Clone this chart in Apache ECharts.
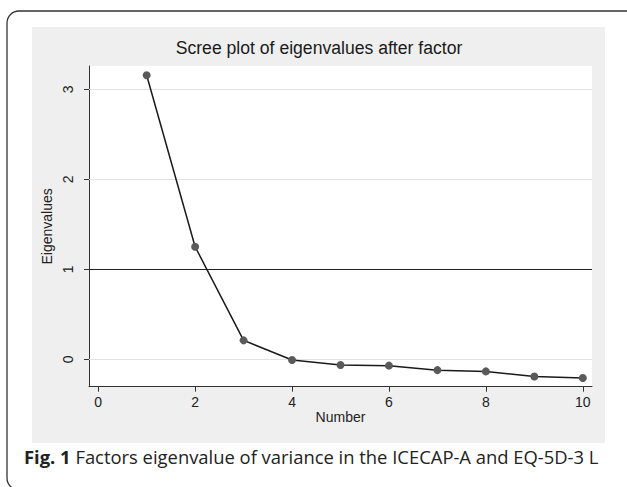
<!DOCTYPE html>
<html>
<head>
<meta charset="utf-8">
<script src="https://cdn.jsdelivr.net/npm/echarts@6/dist/echarts.min.js"></script>
<style>
html,body{margin:0;padding:0;background:#fff;}
#chart{width:627px;height:487px;}
</style>
</head>
<body>
<div id="chart"></div>
<script>
// Data
var factorNumbers = [1, 2, 3, 4, 5, 6, 7, 8, 9, 10];
var eigenvalues = [3.156, 1.251, 0.211, -0.008, -0.063, -0.070, -0.120, -0.134, -0.190, -0.208];
var xTickValues = [0, 2, 4, 6, 8, 10];
var yTickValues = [0, 1, 2, 3];
var yGridValues = [0, 2, 3];
var referenceLine = 1;
var titleText = 'Scree plot of eigenvalues after factor';
var xAxisName = 'Number';
var yAxisName = 'Eigenvalues';
var captionBold = 'Fig. 1';
var captionText = ' Factors eigenvalue of variance in the ICECAP-A and EQ-5D-3 L';

var seriesData = factorNumbers.map(function (n, i) { return [n, eigenvalues[i]]; });

var chart = echarts.init(document.getElementById('chart'), null, {renderer: 'svg'});
var font = '"Liberation Sans", Arial, sans-serif';
var capFont = '"Open Sans", "Noto Sans", sans-serif';

var option = {
  animation: false,
  backgroundColor: '#ffffff',
  graphic: [
    {type: 'rect', z: -10, shape: {x: 7, y: 11, width: 632, height: 479, r: 12},
     style: {fill: '#ffffff', stroke: '#333333', lineWidth: 1.3}},
    {type: 'rect', z: -9, shape: {x: 32, y: 27, width: 573, height: 416},
     style: {fill: '#efefef'}},
    {type: 'text', left: 24, top: 447, z: 10,
     style: {
       text: '{b|' + captionBold + '}{r|' + captionText + '}',
       rich: {
         b: {fontFamily: capFont, fontWeight: 'bold', fontSize: 18.4, fill: '#222'},
         r: {fontFamily: capFont, fontWeight: 'normal', fontSize: 18.4, fill: '#222'}
       }
     }}
  ],
  title: {
    text: titleText,
    left: 314,
    textAlign: 'center',
    top: 34,
    textStyle: {fontFamily: font, fontWeight: 'normal', fontSize: 17.6, color: '#1a1a1a'}
  },
  grid: {
    left: 89, top: 66, right: 35, bottom: 100.3,
    show: true, backgroundColor: '#ffffff', borderWidth: 0,
    containLabel: false
  },
  xAxis: {
    type: 'value',
    min: -0.19, max: 10.19,
    name: xAxisName,
    nameLocation: 'middle',
    nameGap: 23,
    nameMoveOverlap: false,
    nameTextStyle: {fontFamily: font, fontSize: 14, color: '#222'},
    axisLine: {show: true, onZero: false, lineStyle: {color: '#333', width: 1}},
    axisTick: {show: true, length: 5, lineStyle: {color: '#333'}, customValues: xTickValues},
    axisLabel: {fontFamily: font, fontSize: 14, color: '#222', margin: 8, customValues: xTickValues},
    splitLine: {show: false}
  },
  yAxis: {
    type: 'value',
    min: -0.304, max: 3.259,
    name: yAxisName,
    nameLocation: 'middle',
    nameGap: 35,
    nameMoveOverlap: false,
    nameRotate: 90,
    nameTextStyle: {fontFamily: font, fontSize: 14, color: '#222'},
    axisLine: {show: true, onZero: false, lineStyle: {color: '#333', width: 1}},
    axisTick: {show: true, length: 5, lineStyle: {color: '#333'}, customValues: yTickValues},
    axisLabel: {fontFamily: font, fontSize: 14, color: '#222', margin: 14, rotate: 90, customValues: yTickValues},
    splitLine: {show: false}
  },
  series: [
    {
      type: 'line',
      data: [],
      silent: true,
      markLine: {
        silent: true, symbol: 'none', label: {show: false},
        lineStyle: {color: '#e2e2e2', width: 1, type: 'solid'},
        data: yGridValues.map(function (v) { return {yAxis: v}; })
      }
    },
    {
      type: 'line',
      data: [],
      silent: true,
      markLine: {
        silent: true, symbol: 'none', label: {show: false},
        lineStyle: {color: '#222', width: 1.2, type: 'solid'},
        data: [{yAxis: referenceLine}]
      }
    },
    {
      type: 'line',
      data: seriesData,
      symbol: 'circle',
      symbolSize: 8,
      lineStyle: {color: '#1a1a1a', width: 1.5},
      itemStyle: {color: '#5a5a5a', borderWidth: 0},
      z: 5
    }
  ]
};
chart.setOption(option);
</script>
</body>
</html>
